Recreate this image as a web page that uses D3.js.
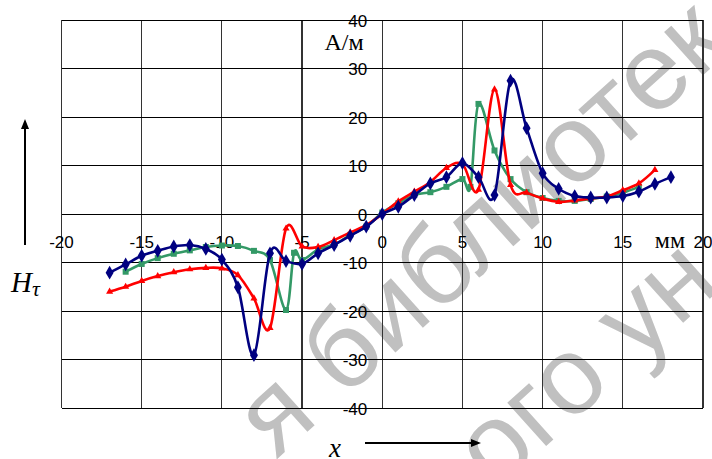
<!DOCTYPE html>
<html><head><meta charset="utf-8">
<script src="https://cdn.jsdelivr.net/npm/d3@7"></script>
<style>body{margin:0;background:#fff}svg{display:block}</style>
</head><body>
<svg id="c" width="712" height="459"></svg>
<script>
// ---- data ----
const xTicks = [-20, -15, -10, -5, 0, 5, 10, 15, 20];
const yTicks = [-40, -30, -20, -10, 0, 10, 20, 30, 40];
const xUnit = "мм";
const yUnit = "А/м";

const blueX = [-17,-16,-15,-14,-13,-12,-11,-10,-9,-8,-7,-6,-5,-4,-3,-2,-1,0,1,2,3,4,5,6,7,8,9,10,11,12,13,14,15,16,17,18];
const blueY = [-12.1,-10.4,-8.6,-7.6,-6.7,-6.4,-7.2,-9.4,-15.1,-29.1,-8.1,-9.7,-10.3,-8.1,-6.4,-4.5,-2.6,0,1.5,3.9,6.3,7.6,10.5,7.6,3.9,27.5,17.7,8.4,5.2,3.7,3.4,3.4,3.7,4.6,6.2,7.6];

const redX = [-17,-16,-15,-14,-13,-12,-11,-10,-9,-8,-7,-6,-5,-4,-3,-2,-1,0,1,2,3,4,5,6,7,8,9,10,11,12,13,14,15,16,17];
const redY = [-16.0,-15.0,-13.8,-12.8,-12.0,-11.4,-11.1,-11.2,-12.6,-17.4,-23.5,-3.0,-6.7,-6.8,-5.4,-3.8,-2.3,0,2.6,4.6,6.6,9.5,10.3,5.0,25.7,6.0,4.4,3.2,2.5,2.8,3.2,3.6,4.9,6.3,9.1];

const greenX = [-16,-15,-14,-13,-12,-11,-10,-9,-8,-7,-6,-5.5,-5,-4,-3,-2,-1,0,1,2,3,4,5,5.5,6,7,8,9,10,11,12,13,14,15,16];
const greenY = [-11.9,-10.3,-9.1,-8.2,-7.5,-6.8,-6.5,-6.6,-7.6,-9.5,-19.8,-8.0,-9.5,-7.3,-6.3,-4.3,-2.6,0.3,2.2,3.9,4.5,5.6,7.2,5.6,22.7,13.1,7.2,4.5,3.3,2.7,2.7,3.1,3.6,4.4,5.6];

const watermark1 = "я библиотек";
const watermark2 = "ого ун";

// ---- layout ----
const svg = d3.select("#c");
const L = 61.5, R = 703, T = 20, B = 408;
const x = d3.scaleLinear().domain([-20, 20]).range([L, R]);
const y = d3.scaleLinear().domain([-40, 40]).range([B, T]);

// watermark
const wm = svg.append("g").attr("fill", "#c0c0c0")
  .attr("font-family", "Liberation Sans, Arial, sans-serif").attr("font-size", 110);
wm.append("text").attr("transform", "translate(276,460) rotate(-42)").text(watermark1);
wm.append("text").attr("transform", "translate(495,492) rotate(-42)").text(watermark2);

// grid
const g = svg.append("g");
g.selectAll(".gx").data(xTicks).join("line")
  .attr("x1", d => x(d)).attr("x2", d => x(d)).attr("y1", T).attr("y2", B)
  .attr("stroke", "#333").attr("stroke-width", 1.2).attr("shape-rendering", "crispEdges");
g.selectAll(".gy").data(yTicks).join("line")
  .attr("y1", d => y(d)).attr("y2", d => y(d)).attr("x1", L).attr("x2", R)
  .attr("stroke", "#000").attr("stroke-width", 1).attr("shape-rendering", "crispEdges");

// tick labels
const font = "Liberation Sans, Arial, sans-serif";
svg.append("g").selectAll("text").data(xTicks).join("text")
  .attr("x", d => x(d)).attr("y", 248)
  .attr("text-anchor", "middle").attr("font-family", font).attr("font-size", 17)
  .text(d => d);
svg.append("g").selectAll("text").data(yTicks).join("text")
  .attr("x", x(0) - 15).attr("y", d => y(d) + 6.5)
  .attr("text-anchor", "end").attr("font-family", font).attr("font-size", 17)
  .text(d => d);

// units
svg.append("text").attr("x", 344).attr("y", 50).attr("text-anchor", "middle")
  .attr("font-family", "Liberation Serif, Times New Roman, serif").attr("font-size", 24)
  .text(yUnit);
svg.append("text").attr("x", 670).attr("y", 248).attr("text-anchor", "middle")
  .attr("font-family", "Liberation Serif, Times New Roman, serif").attr("font-size", 24)
  .text(xUnit);

// series
const series = [
  {xs: greenX, ys: greenY, color: "#339966", marker: "square", size: 36},
  {xs: redX, ys: redY, color: "#ff0000", marker: "triangle", size: 22},
  {xs: blueX, ys: blueY, color: "#000080", marker: "diamond", size: 55}
];
const line = d3.line().x(d => x(d[0])).y(d => y(d[1])).curve(d3.curveCardinal.tension(0));
const sym = {square: d3.symbolSquare, triangle: d3.symbolTriangle, diamond: d3.symbolDiamond};
series.forEach(s => {
  const pts = s.xs.map((v, i) => [v, s.ys[i]]);
  svg.append("path").datum(pts).attr("d", line).attr("fill", "none")
    .attr("stroke", s.color).attr("stroke-width", 2.6).attr("stroke-linejoin", "round");
  svg.append("g").selectAll("path").data(pts).join("path")
    .attr("transform", d => `translate(${x(d[0])},${y(d[1])})`)
    .attr("d", d3.symbol().type(sym[s.marker]).size(s.size))
    .attr("fill", s.color);
});

// axis titles & arrows
const serif = "Liberation Serif, Times New Roman, serif";
const hl = svg.append("text").attr("x", 11).attr("y", 292)
  .attr("font-family", serif).attr("font-style", "italic").attr("font-size", 29);
hl.append("tspan").text("H");
hl.append("tspan").attr("dy", 4).attr("font-size", 22).text("τ");
svg.append("text").attr("x", 329).attr("y", 457)
  .attr("font-family", serif).attr("font-style", "italic").attr("font-size", 27).text("x");

svg.append("line").attr("x1", 25).attr("x2", 25).attr("y1", 245).attr("y2", 126)
  .attr("stroke", "#000").attr("stroke-width", 2);
svg.append("path").attr("d", "M25,119 L21,129 L29,129 Z").attr("fill", "#000");
svg.append("line").attr("x1", 365).attr("x2", 474).attr("y1", 443).attr("y2", 443)
  .attr("stroke", "#000").attr("stroke-width", 2);
svg.append("path").attr("d", "M481,443 L471,439 L471,447 Z").attr("fill", "#000");
</script>
</body></html>
